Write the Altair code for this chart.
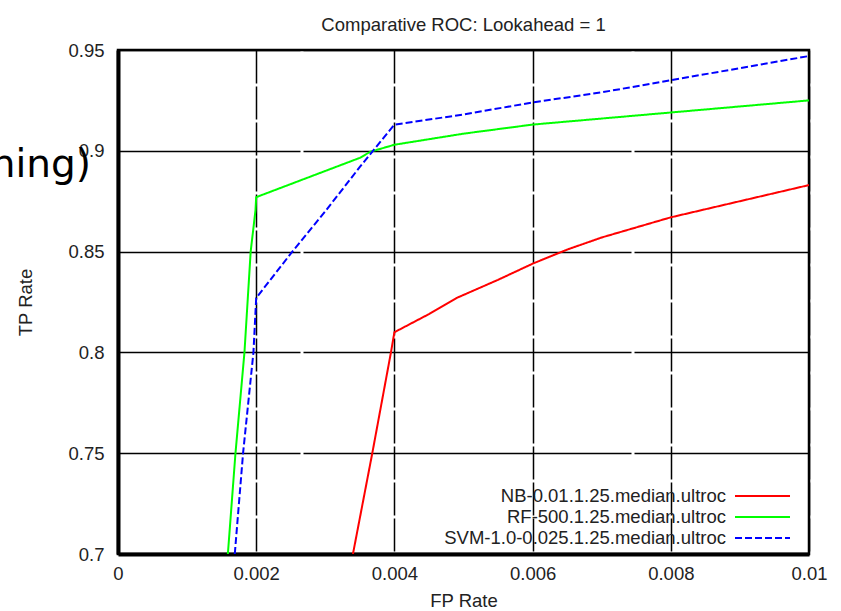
import altair as alt
import pandas as pd

# ---- data ----
nb_x = [0.0034, 0.00368, 0.00395, 0.0040, 0.0045, 0.0049, 0.0055, 0.0060, 0.0065, 0.0070, 0.0075, 0.0080, 0.0085, 0.0090, 0.0095, 0.0100]
nb_y = [0.700, 0.750, 0.800, 0.810, 0.819, 0.827, 0.836, 0.844, 0.851, 0.857, 0.862, 0.867, 0.871, 0.875, 0.879, 0.883]

rf_x = [0.00159, 0.00170, 0.00183, 0.00192, 0.00199, 0.0020, 0.0025, 0.0030, 0.0035, 0.00365, 0.0040, 0.0050, 0.0060, 0.0070, 0.0080, 0.0090, 0.0100]
rf_y = [0.700, 0.750, 0.800, 0.850, 0.8706, 0.877, 0.8835, 0.890, 0.8965, 0.8995, 0.903, 0.9085, 0.913, 0.916, 0.919, 0.922, 0.925]

svm_x = [0.00169, 0.00181, 0.00196, 0.0020, 0.0025, 0.0030, 0.0035, 0.0040, 0.0050, 0.0060, 0.0070, 0.0080, 0.0090, 0.0100]
svm_y = [0.700, 0.750, 0.800, 0.827, 0.849, 0.870, 0.892, 0.913, 0.918, 0.924, 0.929, 0.935, 0.941, 0.947]

series_names = ["NB-0.01.1.25.median.ultroc", "RF-500.1.25.median.ultroc", "SVM-1.0-0.025.1.25.median.ultroc"]
series_colors = ["#ff0000", "#00ff00", "#0000ff"]
series_dash = [[1, 0], [1, 0], [7, 3]]

x_ticks = [0, 0.002, 0.004, 0.006, 0.008, 0.01]
y_ticks = [0.7, 0.75, 0.8, 0.85, 0.9, 0.95]

title_text = ["Comparative ROC: Lookahead = 1"]
x_title = "FP Rate"
y_title = "TP Rate"
fragment_text = ["ning)"]

FONT = "Liberation Sans, Arial, sans-serif"
FS = 18.5
W, H = 691, 504

rows = []
for name, xs, ys in zip(series_names, [nb_x, rf_x, svm_x], [nb_y, rf_y, svm_y]):
    for i, (a, b) in enumerate(zip(xs, ys)):
        rows.append({"series": name, "fp": a, "tp": b, "order": i})
df = pd.DataFrame(rows)

lines = alt.Chart(df).mark_line(strokeWidth=2, clip=True).encode(
    x=alt.X("fp:Q", scale=alt.Scale(domain=[0, 0.01], nice=False, zero=False),
            axis=alt.Axis(values=x_ticks, format="~g", title=x_title)),
    y=alt.Y("tp:Q", scale=alt.Scale(domain=[0.7, 0.95], nice=False, zero=False),
            axis=alt.Axis(values=y_ticks, format="~g", title=y_title)),
    color=alt.Color("series:N", scale=alt.Scale(domain=series_names, range=series_colors), legend=None),
    strokeDash=alt.StrokeDash("series:N", scale=alt.Scale(domain=series_names, range=series_dash), legend=None),
    order="order:Q",
)

layers = [lines]

# custom legend (labels left of samples, as in the reference)
for i, (name, col, dash) in enumerate(zip(series_names, series_colors, series_dash)):
    ldf = pd.DataFrame({"t": [name]})
    ypix = 446 + 21 * i
    layers.append(
        alt.Chart(ldf).mark_text(align="right", baseline="middle", fontSize=FS, font=FONT, color="#222")
        .encode(x=alt.value(608), y=alt.value(ypix), text="t:N")
    )
    layers.append(
        alt.Chart(ldf).mark_rule(color=col, strokeWidth=2, strokeDash=dash)
        .encode(x=alt.value(617), x2=alt.value(672), y=alt.value(ypix))
    )

# chart title
layers.append(
    alt.Chart(pd.DataFrame({"t": title_text})).mark_text(
        align="center", baseline="alphabetic", fontSize=FS, font=FONT, color="#222"
    ).encode(x=alt.value(W / 2), y=alt.value(-19), text="t:N")
)

# slide text fragment overlapping on the left
frag = alt.Chart(pd.DataFrame({"t": fragment_text})).mark_text(
    align="right", baseline="alphabetic", fontSize=39, font="DejaVu Sans", color="#000"
).encode(x=alt.value(-27), y=alt.value(127), text="t:N")
layers.append(frag)

chart = alt.layer(*layers).properties(
    width=W, height=H,
    autosize=alt.AutoSizeParams(type="none"),
    padding={"left": 118, "top": 50, "right": 32, "bottom": 57},
    background="#ffffff",
).configure_view(
    stroke="#000", strokeWidth=2.5
).configure_axis(
    domainColor="#000", domainWidth=4, tickSize=0, labelFlush=False,
    gridColor="#000", gridOpacity=1, gridWidth=1.5,
    labelFont=FONT, labelFontSize=FS, labelColor="#222",
    titleFont=FONT, titleFontSize=FS, titleFontWeight="normal", titleColor="#222",
).configure_axisX(
    labelPadding=10, titlePadding=9, gridDash=[33, 3]
).configure_axisY(
    labelPadding=14, titlePadding=32, gridDash=[328, 3], gridDashOffset=146
)

chart.save("out.html", embed_options={"renderer": "svg", "actions": False})
